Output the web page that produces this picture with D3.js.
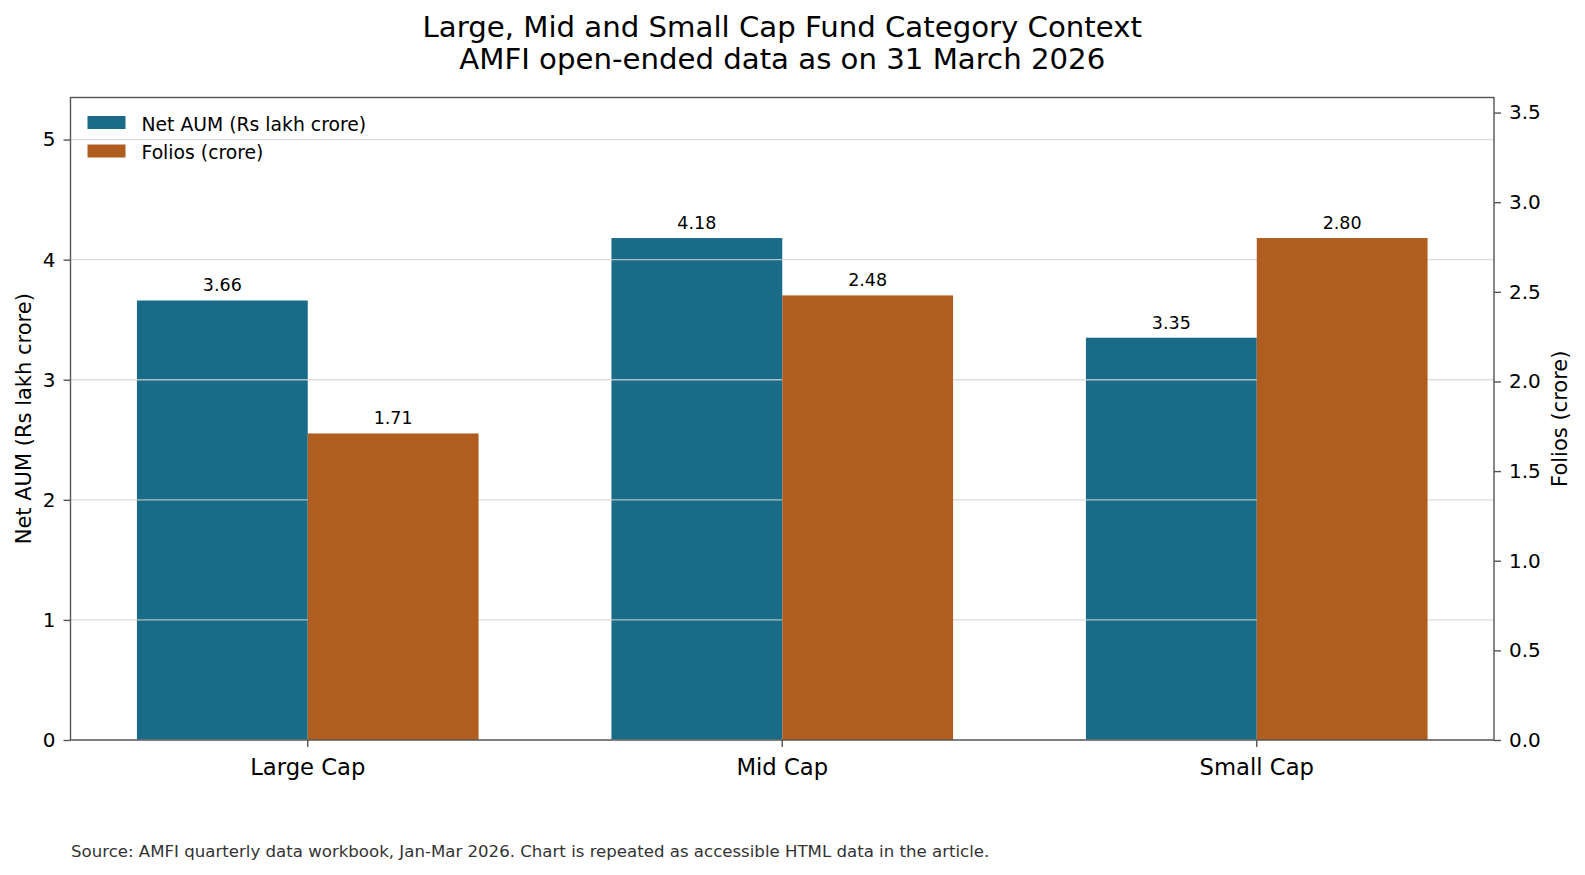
<!DOCTYPE html>
<html>
<head>
<meta charset="utf-8">
<script src="https://cdn.jsdelivr.net/npm/d3@7"></script>
<style>
  body { margin: 0; background: #fff; }
  svg { display: block; font-family: "DejaVu Sans", sans-serif; }
</style>
</head>
<body>
<div id="chart-area"></div>
<script>
var categories = ['Large Cap', 'Mid Cap', 'Small Cap'];
var seriesNames = ['Net AUM (Rs lakh crore)', 'Folios (crore)'];
var netAum = [3.66, 4.18, 3.35];
var folios = [1.71, 2.48, 2.80];
var leftTicks = [0, 1, 2, 3, 4, 5];
var rightTicks = [0, 0.5, 1.0, 1.5, 2.0, 2.5, 3.0, 3.5];

const WIDTH = 1585, HEIGHT = 875
const MARGIN = { LEFT: 70.5, RIGHT: 91, TOP: 97.5, BOTTOM: 135 }
const IW = WIDTH - MARGIN.LEFT - MARGIN.RIGHT
const IH = HEIGHT - MARGIN.TOP - MARGIN.BOTTOM
const BLUE = "#1a6b87", ORANGE = "#b05e20", SPINE = "#555"

const svg = d3.select("#chart-area").append("svg")
      .attr("width", WIDTH)
      .attr("height", HEIGHT)

// Title
svg.append("text")
      .attr("x", MARGIN.LEFT + IW / 2)
      .attr("y", 37)
      .attr("font-size", "29.2px")
      .attr("text-anchor", "middle")
      .text("Large, Mid and Small Cap Fund Category Context")
svg.append("text")
      .attr("x", MARGIN.LEFT + IW / 2)
      .attr("y", 69)
      .attr("font-size", "29.2px")
      .attr("text-anchor", "middle")
      .text("AMFI open-ended data as on 31 March 2026")

const g = svg.append("g")
      .attr("transform", `translate(${MARGIN.LEFT}, ${MARGIN.TOP})`)

const x = d3.scaleBand()
      .domain(categories)
      .range([0, IW])
      .padding(0)
const barW = x.bandwidth() * 0.36

const yL = d3.scaleLinear()
      .domain([0, d3.max(netAum) * 1.28])
      .range([IH, 0])
const yR = d3.scaleLinear()
      .domain([0, d3.max(folios) * 1.28])
      .range([IH, 0])

// Blue bars (left axis)
g.selectAll("rect.aum").data(netAum).enter().append("rect")
      .attr("class", "aum")
      .attr("x", (d, i) => x(categories[i]) + x.bandwidth() / 2 - barW)
      .attr("y", d => yL(d))
      .attr("width", barW)
      .attr("height", d => IH - yL(d))
      .attr("fill", BLUE)

// Grid (above blue bars, below orange bars)
g.selectAll("line.grid").data(leftTicks).enter().append("line")
      .attr("class", "grid")
      .attr("x1", 0).attr("x2", IW)
      .attr("y1", d => yL(d)).attr("y2", d => yL(d))
      .attr("stroke", "#d3d3d3")
      .attr("stroke-opacity", 0.8)
      .attr("stroke-width", 1.4)

// Orange bars (right axis)
g.selectAll("rect.folio").data(folios).enter().append("rect")
      .attr("class", "folio")
      .attr("x", (d, i) => x(categories[i]) + x.bandwidth() / 2)
      .attr("y", d => yR(d))
      .attr("width", barW)
      .attr("height", d => IH - yR(d))
      .attr("fill", ORANGE)

// Value labels
g.selectAll("text.lblA").data(netAum).enter().append("text")
      .attr("x", (d, i) => x(categories[i]) + x.bandwidth() / 2 - barW / 2)
      .attr("y", d => yL(d) - 9)
      .attr("font-size", "17.5px")
      .attr("text-anchor", "middle")
      .text(d => d.toFixed(2))
g.selectAll("text.lblF").data(folios).enter().append("text")
      .attr("x", (d, i) => x(categories[i]) + x.bandwidth() / 2 + barW / 2)
      .attr("y", d => yR(d) - 9)
      .attr("font-size", "17.5px")
      .attr("text-anchor", "middle")
      .text(d => d.toFixed(2))

// Axes
function styleAxis(sel, size) {
      sel.select(".domain").remove()
      sel.selectAll(".tick line").attr("stroke", SPINE).attr("stroke-width", 1.4)
      sel.selectAll(".tick text").attr("font-family", "DejaVu Sans")
            .attr("font-size", size).attr("fill", "#000")
}

g.append("g").call(d3.axisLeft(yL).tickValues(leftTicks).tickSize(7).tickPadding(8)
            .tickFormat(d3.format("d")))
      .call(s => styleAxis(s, "20px"))

g.append("g").attr("transform", `translate(${IW}, 0)`)
      .call(d3.axisRight(yR).tickValues(rightTicks).tickSize(7).tickPadding(8)
            .tickFormat(d => d.toFixed(1)))
      .call(s => styleAxis(s, "20px"))

g.append("g").attr("transform", `translate(0, ${IH})`)
      .call(d3.axisBottom(x).tickSize(7).tickPadding(12))
      .call(s => styleAxis(s, "22.7px"))

// Spines
g.append("rect")
      .attr("x", 0).attr("y", 0)
      .attr("width", IW).attr("height", IH)
      .attr("fill", "none")
      .attr("stroke", SPINE)
      .attr("stroke-width", 1.4)

// Axis labels
svg.append("text")
      .attr("transform", `translate(31, ${MARGIN.TOP + IH / 2}) rotate(-90)`)
      .attr("font-size", "21px")
      .attr("text-anchor", "middle")
      .text("Net AUM (Rs lakh crore)")
svg.append("text")
      .attr("transform", `translate(1567, ${MARGIN.TOP + IH / 2}) rotate(-90)`)
      .attr("font-size", "21px")
      .attr("text-anchor", "middle")
      .text("Folios (crore)")

// Legend
const colors = [BLUE, ORANGE]
const legend = g.selectAll("g.legend").data(seriesNames).enter().append("g")
      .attr("transform", (d, i) => `translate(17, ${18.5 + i * 28.5})`)
legend.append("rect")
      .attr("width", 38).attr("height", 13)
      .attr("fill", (d, i) => colors[i])
legend.append("text")
      .attr("x", 54).attr("y", 14.5)
      .attr("font-size", "18.8px")
      .text(d => d)

// Source note
svg.append("text")
      .attr("x", 71)
      .attr("y", 857)
      .attr("font-size", "16.6px")
      .attr("fill", "#333")
      .text("Source: AMFI quarterly data workbook, Jan-Mar 2026. Chart is repeated as accessible HTML data in the article.")
</script>
</body>
</html>
